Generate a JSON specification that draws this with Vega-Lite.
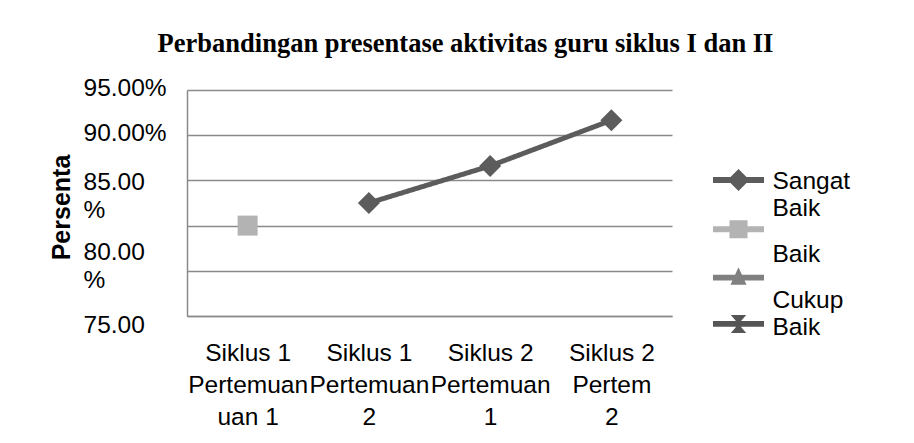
{
  "$schema": "https://vega.github.io/schema/vega-lite/v6.json",
  "width": 485,
  "height": 226,
  "autosize": {"type": "none"},
  "padding": {"left": 187, "top": 90, "right": 242, "bottom": 127},
  "background": "white",
  "config": {
    "view": {"stroke": null},
    "font": "Liberation Sans"
  },
  "title": {
    "text": "Perbandingan presentase aktivitas guru siklus I dan II",
    "font": "Liberation Serif",
    "fontWeight": "bold",
    "fontSize": 26.5,
    "color": "black",
    "anchor": "middle",
    "frame": "group",
    "dx": 36,
    "offset": 18
  },
  "data": {
    "values": [
      {"pertemuan": "Siklus 1 Pertemuan 1", "kategori": "Baik", "nilai": 0.80},
      {"pertemuan": "Siklus 1 Pertemuan 2", "kategori": "Sangat Baik", "nilai": 0.825},
      {"pertemuan": "Siklus 2 Pertemuan 1", "kategori": "Sangat Baik", "nilai": 0.866},
      {"pertemuan": "Siklus 2 Pertemuan 2", "kategori": "Sangat Baik", "nilai": 0.9165}
    ]
  },
  "encoding": {
    "x": {
      "field": "pertemuan",
      "type": "nominal",
      "sort": null,
      "scale": {"paddingInner": 0, "paddingOuter": 0},
      "axis": {
        "title": null,
        "labelAngle": 0,
        "labelFontSize": 24.5,
        "labelColor": "black",
        "labelLineHeight": 32,
        "labelBaseline": "top",
        "labelPadding": 25,
        "ticks": false,
        "tickSize": 0,
        "domainColor": "#8a8a8a",
        "domainWidth": 1.5,
        "labelLimit": 300,
        "labelOverlap": false,
        "labelExpr": "datum.value == 'Siklus 1 Pertemuan 1' ? ['Siklus 1', 'Pertemuan', 'uan 1'] : datum.value == 'Siklus 1 Pertemuan 2' ? ['Siklus 1', 'Pertemuan', '2'] : datum.value == 'Siklus 2 Pertemuan 1' ? ['Siklus 2', 'Pertemuan', '1'] : ['Siklus 2', 'Pertem', '2']"
      }
    },
    "y": {
      "field": "nilai",
      "type": "quantitative",
      "scale": {"domain": [0.70, 0.95], "nice": false, "zero": false},
      "axis": {
        "title": "Persenta",
        "titleFont": "Liberation Sans",
        "titleFontWeight": "bold",
        "titleFontSize": 25,
        "titleColor": "black",
        "titleAngle": -90,
        "titleAlign": "center",
        "titleBaseline": "alphabetic",
        "titleX": -118,
        "titleY": 117,
        "values": [0.70, 0.75, 0.8, 0.85, 0.9, 0.95],
        "format": ".2%",
        "labelFontSize": 24.5,
        "labelColor": "black",
        "labelAlign": "left",
        "labelBaseline": "middle",
        "labelLineHeight": 28,
        "labelPadding": 104,
        "labelOverlap": false,
        "labelFlush": false,
        "labelBound": false,
        "labelLimit": 300,
        "ticks": false,
        "tickSize": 0,
        "grid": true,
        "gridColor": "#8a8a8a",
        "gridWidth": 1.5,
        "domainColor": "#8a8a8a",
        "domainWidth": 1.5,
        "labelOffset": {
          "condition": [
            {"test": "datum.value > 0.84 && datum.value < 0.86", "value": 2},
            {"test": "datum.value > 0.79 && datum.value < 0.81", "value": 27},
            {"test": "datum.value > 0.74 && datum.value < 0.76", "value": 55}
          ],
          "value": -2
        },
        "labelExpr": "datum.value < 0.72 ? '' : datum.value >= 0.9 ? datum.label : datum.value < 0.77 ? replace(datum.label, '%', '') : [replace(datum.label, '%', ''), '%']"
      }
    },
    "color": {
      "field": "kategori",
      "type": "nominal",
      "scale": {
        "domain": ["Sangat Baik", "Baik", "Cukup Baik", "Kurang Baik"],
        "range": ["#5c5c5c", "#b3b3b3", "#808080", "#555555"]
      },
      "legend": {
        "title": null,
        "orient": "none",
        "legendX": 526,
        "legendY": 79,
        "padding": 0,
        "symbolSize": 484,
        "symbolOffset": 14.5,
        "symbolStrokeWidth": 0,
        "rowPadding": 27.3,
        "labelFontSize": 1,
        "labelExpr": "''",
        "encode": {
          "symbols": {
            "update": {
              "shape": {"signal": "datum.value == 'Sangat Baik' ? 'M-2.32,-0.27H2.32V0.27H-2.32Z M0,-1L1,0L0,1L-1,0Z' : datum.value == 'Baik' ? 'M-2.32,-0.27H2.32V0.27H-2.32Z M-0.82,-0.82H0.82V0.82H-0.82Z' : datum.value == 'Cukup Baik' ? 'M-2.32,-0.27H2.32V0.27H-2.32Z M0,-0.95L0.73,0.65L-0.73,0.65Z' : 'M-2.32,-0.27H2.32V0.27H-2.32Z M-0.7,-0.82L0.7,-0.82L0,0Z M0,0L0.7,0.82L-0.7,0.82Z'"},
              "fill": {"scale": "color", "field": "value"},
              "stroke": {"value": "transparent"},
              "opacity": {"value": 1},
              "size": {"value": 484}
            }
          }
        }
      }
    }
  },
  "layer": [
    {
      "mark": {"type": "line", "strokeWidth": 5},
      "encoding": {
        "strokeDash": {
          "field": "kategori",
          "type": "nominal",
          "scale": {
            "domain": ["Sangat Baik", "Baik", "Cukup Baik", "Kurang Baik"],
            "range": [[1, 0], [1, 0], [1, 0], [1, 0]]
          },
          "legend": {
            "title": null,
            "orient": "right",
            "offset": 7.5,
            "padding": 68,
            "symbolSize": 0,
            "symbolOpacity": 0,
            "symbolStrokeWidth": 0,
            "rowPadding": 10,
            "labelOffset": 0,
            "labelFontSize": 24.5,
            "labelColor": "black",
            "labelLimit": 300,
            "labelLineHeight": 30.5,
            "labelBaseline": "top",
            "labelExpr": "datum.label == 'Sangat Baik' ? ['Sangat', 'Baik'] : datum.label == 'Cukup Baik' ? ['Cukup', 'Baik'] : datum.label == 'Baik' ? 'Baik' : ''"
          }
        }
      }
    },
    {
      "transform": [{"filter": "datum.kategori == 'Sangat Baik'"}],
      "mark": {"type": "point", "shape": "diamond", "filled": true, "opacity": 1, "size": 484}
    },
    {
      "transform": [{"filter": "datum.kategori == 'Baik'"}],
      "mark": {"type": "point", "shape": "square", "filled": true, "opacity": 1, "size": 400}
    }
  ]
}
